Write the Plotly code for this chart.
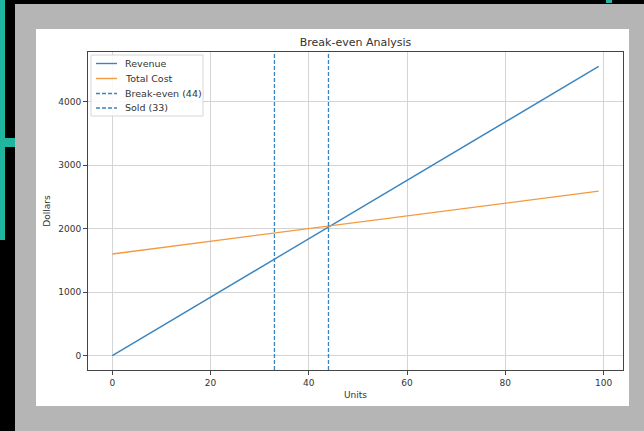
import plotly.graph_objects as go

# ---- data ----
units = [0, 99]
revenue = [0, 4554]
total_cost = [1600, 2590]
break_even_units = 44
sold_units = 33

x_ticks = [0, 20, 40, 60, 80, 100]
y_ticks = [0, 1000, 2000, 3000, 4000]

legend_labels = ["Revenue", "Total Cost", f"Break-even ({break_even_units})", f"Sold ({sold_units})"]
legend_colors = ["#3a84bf", "#f39a3e", "#3a84bf", "#3a84bf"]
legend_dash = ["solid", "solid", "4px,2px", "4px,2px"]

# ---- layout geometry (px) ----
W, H = 644, 431
L, R, T, B = 88, 623, 52, 370
x_range = [-4.95, 103.95]
y_range = [-228, 4782]


def px(x):
    return (x - L) / (R - L)


def py(y):
    return (B - y) / (B - T)


BLUE = "#3a84bf"
ORANGE = "#f39a3e"
FONT = "DejaVu Sans"

fig = go.Figure()
fig.add_trace(go.Scatter(x=units, y=revenue, mode="lines", name=legend_labels[0],
                         line=dict(color=BLUE, width=1.4)))
fig.add_trace(go.Scatter(x=units, y=total_cost, mode="lines", name=legend_labels[1],
                         line=dict(color=ORANGE, width=1.4)))
fig.add_trace(go.Scatter(x=[break_even_units] * 2, y=y_range, mode="lines", name=legend_labels[2],
                         line=dict(color=BLUE, width=1.3, dash="4px,2px")))
fig.add_trace(go.Scatter(x=[sold_units] * 2, y=y_range, mode="lines", name=legend_labels[3],
                         line=dict(color=BLUE, width=1.3, dash="4px,2px")))

shapes = []
# gray frame, white card, teal decorations
shapes.append(dict(type="rect", xref="paper", yref="paper", layer="below",
                   x0=px(15), x1=px(W + 5), y0=py(H + 5), y1=py(4),
                   fillcolor="#b5b5b5", line=dict(width=0)))
shapes.append(dict(type="rect", xref="paper", yref="paper", layer="below",
                   x0=px(36), x1=px(629), y0=py(406), y1=py(29),
                   fillcolor="white", line=dict(width=0)))
shapes.append(dict(type="rect", xref="paper", yref="paper", layer="below",
                   x0=px(-5), x1=px(5), y0=py(240), y1=py(-5),
                   fillcolor="#1fb5a0", line=dict(width=0)))
shapes.append(dict(type="rect", xref="paper", yref="paper", layer="below",
                   x0=px(-5), x1=px(15), y0=py(147), y1=py(138),
                   fillcolor="#1fb5a0", line=dict(width=0)))
shapes.append(dict(type="rect", xref="paper", yref="paper", layer="below",
                   x0=px(606), x1=px(612), y0=py(3), y1=py(-5),
                   fillcolor="#1fb5a0", line=dict(width=0)))

# legend box
shapes.append(dict(type="rect", xref="paper", yref="paper", layer="above",
                   x0=px(91), x1=px(203), y0=py(116), y1=py(55),
                   fillcolor="rgba(255,255,255,0.85)", line=dict(color="#d6d6d6", width=1)))
legend_y = [63.5, 78.5, 93.5, 108]
annotations = []
for lab, col, dash, yy in zip(legend_labels, legend_colors, legend_dash, legend_y):
    shapes.append(dict(type="line", xref="paper", yref="paper", layer="above",
                       x0=px(96), x1=px(117), y0=py(yy), y1=py(yy),
                       line=dict(color=col, width=1.4, dash=dash)))
    annotations.append(dict(text=lab, xref="paper", yref="paper", x=px(123), y=py(yy),
                            xanchor="left", yanchor="middle", showarrow=False,
                            font=dict(family=FONT, size=9.5, color="#333333")))

fig.update_layout(
    width=W, height=H,
    margin=dict(l=L, r=W - R, t=T, b=H - B, pad=0),
    paper_bgcolor="black",
    plot_bgcolor="white",
    showlegend=False,
    font=dict(family=FONT, size=9, color="#333333"),
    title=dict(text="Break-even Analysis", x=0.5, xref="paper", xanchor="center",
               y=1 - 42 / H, yref="container", yanchor="middle",
               font=dict(family=FONT, size=11, color="#333333")),
    shapes=shapes,
    annotations=annotations,
)
axis_common = dict(showline=True, mirror=True, linecolor="#444444", linewidth=1,
                   ticks="outside", ticklen=4, tickcolor="#444444", tickwidth=1,
                   showgrid=True, gridcolor="#d4d4d4", gridwidth=1, zeroline=False,
                   tickfont=dict(family=FONT, size=9, color="#333333"))
fig.update_xaxes(range=x_range, tickvals=x_ticks, ticktext=[str(v) for v in x_ticks],
                 title=dict(text="Units", font=dict(family=FONT, size=9, color="#333333"), standoff=4),
                 **axis_common)
fig.update_yaxes(range=y_range, tickvals=y_ticks, ticktext=[str(v) for v in y_ticks],
                 title=dict(text="Dollars", font=dict(family=FONT, size=9, color="#333333"), standoff=6),
                 **axis_common)

fig.write_html("out.html", config={"displayModeBar": False},
               post_script="document.body.style.margin='0';document.body.style.overflow='hidden';")
